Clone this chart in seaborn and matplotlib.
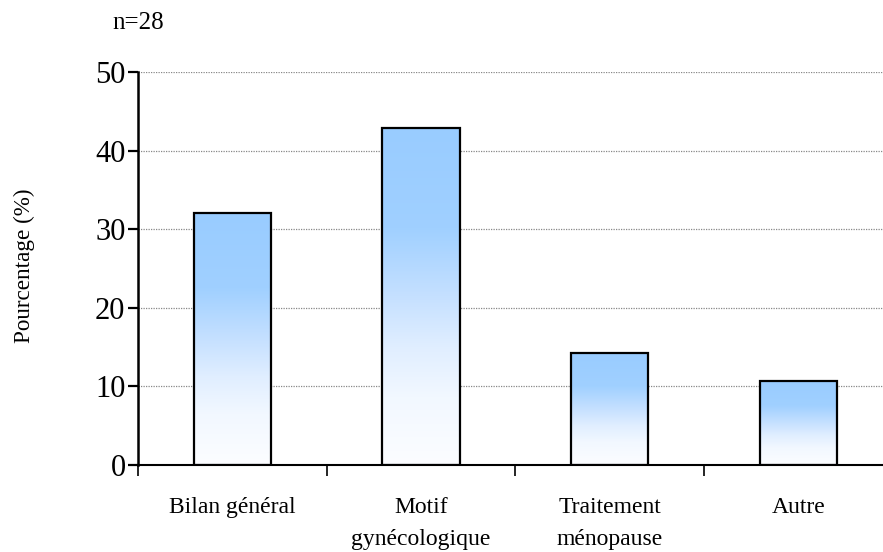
import numpy as np
import matplotlib
matplotlib.use("Agg")
import matplotlib.pyplot as plt
import seaborn as sns
from matplotlib.colors import LinearSegmentedColormap

categories = ["Bilan général", "Motif\ngynécologique", "Traitement\nménopause", "Autre"]
pourcentages = [32.1, 42.9, 14.3, 10.7]
y_ticks = [0, 10, 20, 30, 40, 50]
effectif = "n=28"

sns.set_theme(style="white")
plt.rcParams["font.family"] = ["Liberation Serif", "DejaVu Serif"]
plt.rcParams["text.color"] = "black"
plt.rcParams["axes.labelcolor"] = "black"
plt.rcParams["xtick.color"] = "black"
plt.rcParams["ytick.color"] = "black"

fig = plt.figure(figsize=(8.83, 5.52), dpi=100)
ax = fig.add_axes([138 / 883, 87 / 552, 754.5 / 883, 393 / 552])

sns.barplot(x=categories, y=pourcentages, color="#99CCFF", width=0.41,
            edgecolor="black", linewidth=1.6, ax=ax, zorder=3)

# vertical blue-to-white gradient inside each bar
grad_cmap = LinearSegmentedColormap.from_list(
    "bleu", [(0.0, "#FCFDFF"), (0.2, "#F2F8FF"), (0.35, "#E0EEFF"),
             (0.5, "#C5E0FF"), (0.7, "#A0D0FF"), (1.0, "#99CCFF")])
grad = np.linspace(0, 1, 256).reshape(-1, 1)
for patch in ax.patches:
    x0, y0 = patch.get_x(), patch.get_y()
    w, h = patch.get_width(), patch.get_height()
    im = ax.imshow(grad, cmap=grad_cmap, origin="lower", aspect="auto",
                   extent=(x0, x0 + w, y0, y0 + h), zorder=2.5, interpolation="bilinear")
    im.set_clip_path(patch)
    patch.set_facecolor("none")

ax.set_xlim(-0.5, 3.5)
ax.set_ylim(0, 50)
ax.set_yticks(y_ticks)
ax.set_yticklabels([str(t) for t in y_ticks], fontsize=22)

# category boundaries carry the x ticks
ax.set_xticks([-0.5, 0.5, 1.5, 2.5, 3.5])
ax.set_xticklabels([])
ax.set_xticks(range(len(categories)), minor=True)
ax.set_xticklabels(categories, minor=True, fontsize=17, linespacing=1.7)
ax.tick_params(axis="x", which="minor", length=0, pad=23, colors="black")
ax.tick_params(axis="x", which="major", direction="out", length=8, width=1.2,
               color="black", bottom=True)
ax.tick_params(axis="y", direction="out", length=7, width=1.6, color="black",
               left=True, pad=2, labelcolor="black")

ax.yaxis.grid(True, color="#888888", linestyle=(0, (1, 1)), linewidth=0.9, zorder=0)
ax.set_axisbelow(True)

for side in ["top", "right"]:
    ax.spines[side].set_visible(False)
ax.spines["left"].set_color("black")
ax.spines["left"].set_linewidth(1.8)
ax.spines["bottom"].set_color("black")
ax.spines["bottom"].set_linewidth(1.5)

ax.set_xlabel("")
ax.set_ylabel("Pourcentage (%)", fontsize=16.7, labelpad=0, color="black")
ax.yaxis.label.set_va("center")
ax.yaxis.set_label_coords(-(138 - 24) / 754.5, (465 - 266) / 393)
fig.text(112 / 883, 1 - 23 / 552, effectif, fontsize=18, va="center", ha="left",
         color="black")

fig.savefig("out.png", dpi=100)
